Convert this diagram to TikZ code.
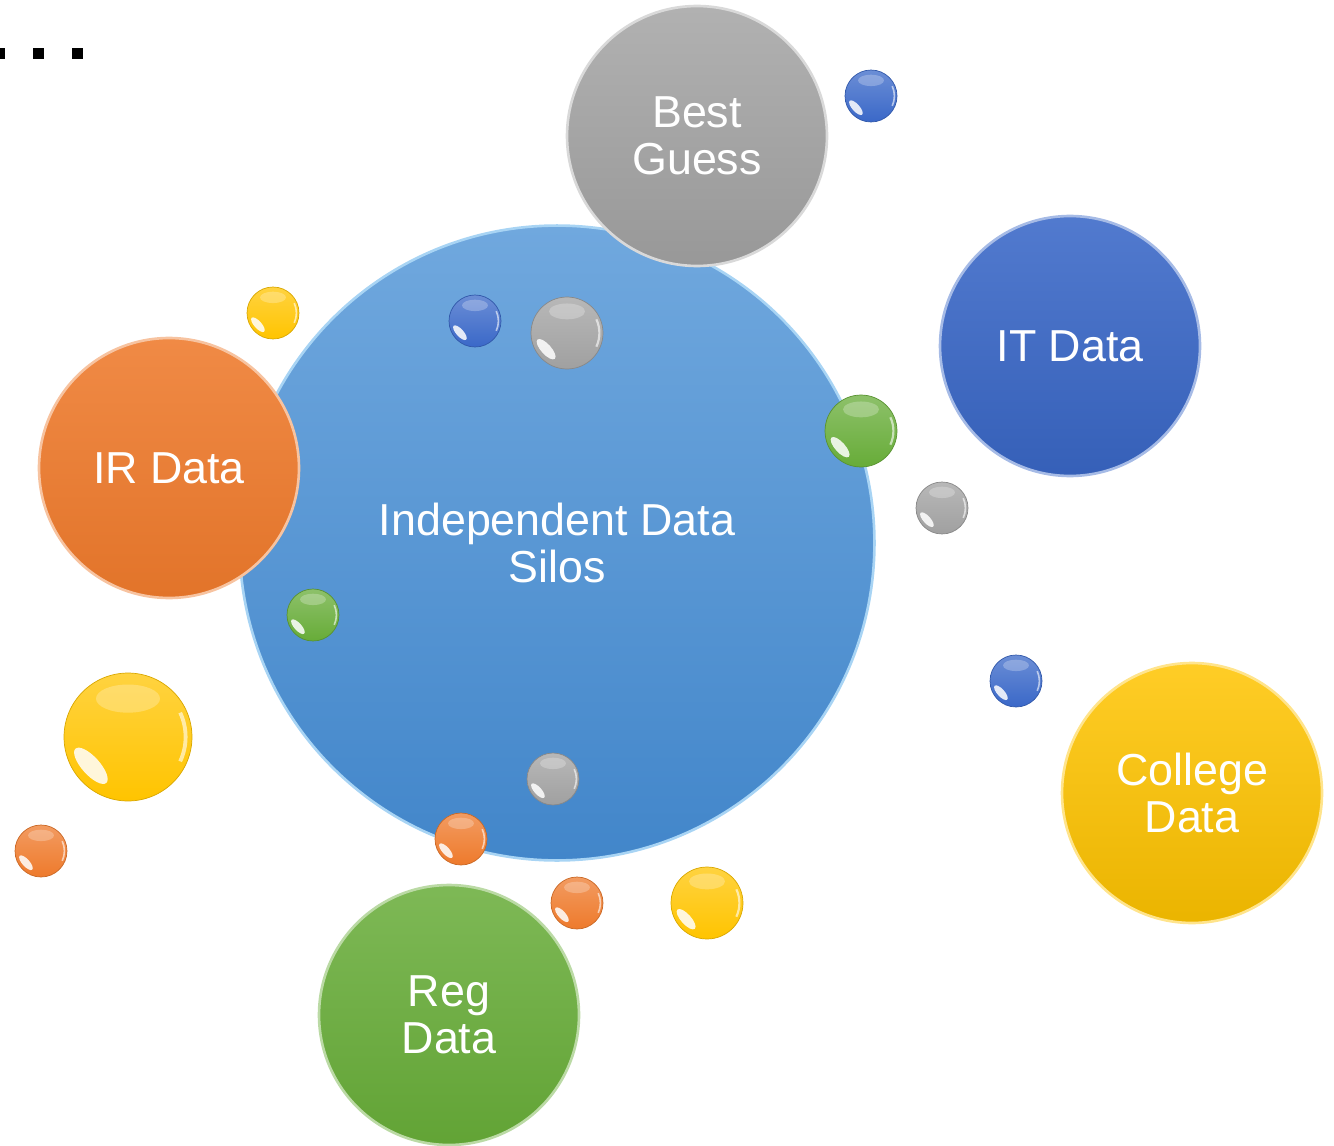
\documentclass[tikz,border=0pt]{standalone}
\usepackage{fontspec}
\setmainfont{Liberation Sans}
\usepackage{tikz}
\usetikzlibrary{positioning,calc,shapes}

\definecolor{siloTop}{HTML}{70A8DE}
\definecolor{siloBot}{HTML}{4286CA}
\definecolor{siloRim}{HTML}{A8D4F4}
\definecolor{ballBlue}{HTML}{3A68C8}
\definecolor{ballGray}{HTML}{A0A0A0}
\definecolor{ballGreen}{HTML}{67AC38}
\definecolor{ballOrange}{HTML}{EE7A2C}
\definecolor{ballYellow}{HTML}{FFC400}

\begin{document}
\begin{tikzpicture}[x=0.02cm,y=0.02cm,
  bubble/.style={circle,inner sep=0pt,align=center,text=white,font=\fontsize{25.5}{27}\selectfont,line width=1.5pt},
  ball/.style={circle,inner sep=0pt,top color=#1!75!white,bottom color=#1,draw=#1!85!black,line width=0.4pt},
  dot/.style={fill=black,inner sep=0pt,minimum height=0.22cm,minimum width=0.22cm}]
  \useasboundingbox (0,0) rectangle (1334,-1145);
  % The dots in the corner
  \path (2.5,-53.5) node[dot,minimum width=0.1cm] (d0) {};
  \path (38.5,-53.5) node[dot] (d1) {};
  \path (77.5,-53.5) node[dot] (d2) {};
  % The big silo and the bubbles round it
  \path (557,-543) node[bubble,minimum size=12.7cm,top color=siloTop,bottom color=siloBot,draw=siloRim] (silo) {Independent Data\\Silos};
  \path (697,-136) node[bubble,minimum size=5.2cm,top color=ballGray!82!white,bottom color=ballGray!95!black,draw=ballGray!40!white] (guess) {Best\\Guess};
  \path (169,-468) node[bubble,minimum size=5.2cm,top color=ballOrange!88!white,bottom color=ballOrange!95!black,draw=ballOrange!45!white] (irdata) {IR Data};
  \path (1070,-346) node[bubble,minimum size=5.2cm,top color=ballBlue!88!white,bottom color=ballBlue!92!black,draw=ballBlue!45!white] (itdata) {IT Data};
  \path (1192,-793) node[bubble,minimum size=5.2cm,top color=ballYellow!85!white,bottom color=ballYellow!92!black,draw=ballYellow!45!white] (college) {College\\Data};
  \path (449,-1015) node[bubble,minimum size=5.2cm,top color=ballGreen!85!white,bottom color=ballGreen!95!black,draw=ballGreen!45!white] (regdata) {Reg\\Data};
  % Small balls with a glint
  \foreach \x/\y/\r/\c/\n in {871/96/26/ballBlue/b1, 273/313/26/ballYellow/b2, 475/321/26/ballBlue/b3,
      567/333/36/ballGray/b4, 861/431/36/ballGreen/b5, 942/508/26/ballGray/b6, 313/615/26/ballGreen/b7,
      1016/681/26/ballBlue/b8, 128/737/64/ballYellow/b9, 553/779/26/ballGray/b10, 461/839/26/ballOrange/b11,
      41/851/26/ballOrange/b12, 577/903/26/ballOrange/b13, 707/903/36/ballYellow/b14}{
    \path (\x,-\y) node[ball=\c,minimum size=\r*0.04cm] (\n) {};
    \path ([shift={(-0.58*\r,-0.45*\r)}]\n.center) coordinate (\n g);
    \fill[white,opacity=.25] ([shift={(0,0.6*\r)}]\n.center) ellipse ({0.5*\r} and {0.22*\r});
    \draw[white,opacity=.6,line width=\r*0.0012cm] ([shift={(-25:0.9*\r)}]\n.center) arc (-25:25:0.9*\r);
    \fill[white,opacity=.85,rotate around={-48:(\n g)}] (\n g) ellipse ({0.36*\r} and {0.14*\r});
  }
\end{tikzpicture}
\end{document}
